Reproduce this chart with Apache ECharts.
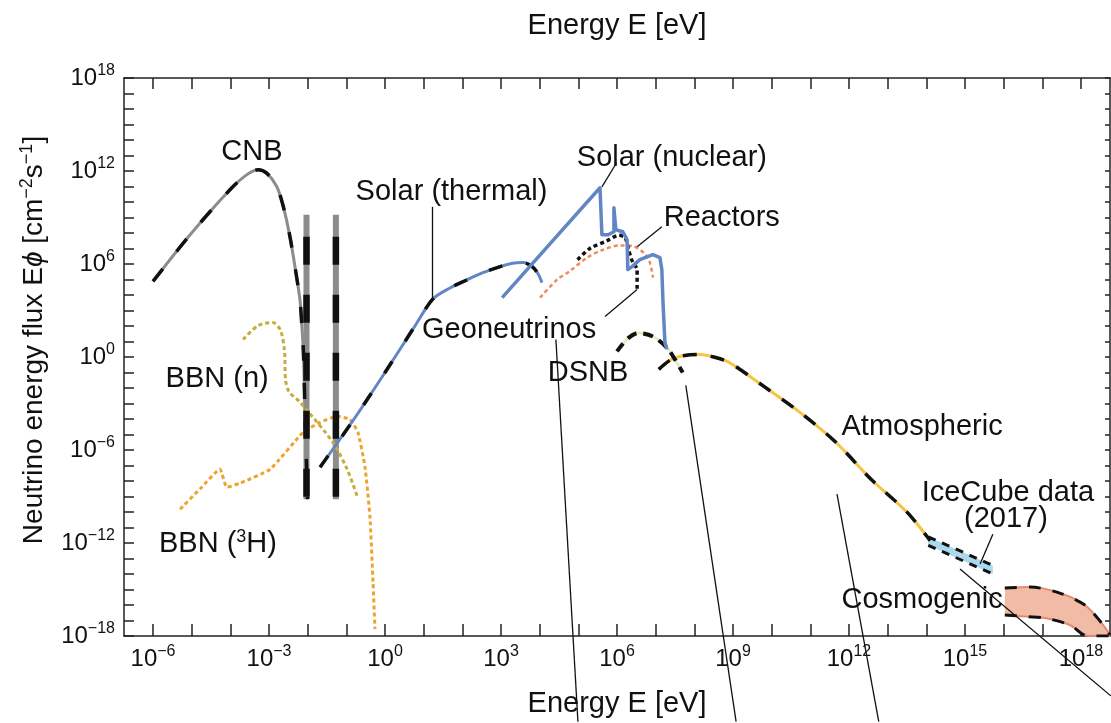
<!DOCTYPE html>
<html>
<head>
<meta charset="utf-8">
<title>Neutrino energy flux</title>
<script src="https://cdn.jsdelivr.net/npm/echarts@6/dist/echarts.min.js"></script>
<style>
  html, body { margin: 0; padding: 0; background: #fff; }
  #chart { width: 1111px; height: 723px; }
</style>
</head>
<body>
<div id="chart"></div>
<script>
// 数据都是 [log10(E/eV), log10(Eφ)]

// 坐标轴刻度
const xTicks = [-6, -5, -4, -3, -2, -1, 0, 1, 2, 3, 4, 5, 6, 7, 8, 9, 10, 11, 12, 13, 14, 15, 16, 17, 18];
const xLabelTicks = [-6, -3, 0, 3, 6, 9, 12, 15, 18];
const yTicks = [-18, -17, -16, -15, -14, -13, -12, -11, -10, -9, -8, -7, -6, -5, -4, -3, -2, -1,
  0, 1, 2, 3, 4, 5, 6, 7, 8, 9, 10, 11, 12, 13, 14, 15, 16, 17, 18];
const yLabelTicks = [-18, -12, -6, 0, 6, 12, 18];

// 曲线
const cnb = [[-6.0, 4.88], [-5.04, 7.89], [-4.01, 10.79], [-3.58, 11.75], [-3.28, 12.08], [-3.06, 11.86],
  [-2.80, 11.0], [-2.63, 9.71], [-2.46, 7.78], [-2.33, 5.85], [-2.20, 3.70], [-2.15, 1.99], [-2.11, 0.29],
  [-2.06, -4.5], [-2.0, -9.17]];
const cnbLine1 = [[-2.03, 9.18], [-2.03, -9.17]];
const cnbLine2 = [[-1.27, 9.18], [-1.27, -9.17]];
const bbnN = [[-3.67, 1.13], [-3.28, 2.03], [-2.90, 2.22], [-2.70, 1.7], [-2.60, 0.4], [-2.57, -1.5],
  [-2.48, -2.25], [-2.2, -2.9], [-1.99, -3.51], [-1.35, -5.50], [-0.98, -7.24], [-0.72, -8.98]];
const bbnH3 = [[-5.30, -9.82], [-4.78, -8.5], [-4.27, -7.24], [-4.09, -8.40], [-3.75, -8.14],
  [-2.97, -7.24], [-2.12, -4.86], [-1.68, -4.22], [-1.24, -3.83], [-0.91, -4.02], [-0.70, -4.86],
  [-0.52, -7.05], [-0.39, -10.27], [-0.31, -14.52], [-0.26, -17.55]];
const solarThermal = [[-1.68, -7.11], [-0.8, -4.0], [0, -1.0], [0.8, 2.1], [1.24, 3.75], [1.68, 4.45],
  [2.1, 4.95], [2.53, 5.44], [3.0, 5.85], [3.3, 6.05], [3.57, 6.09], [3.8, 5.85], [3.95, 5.4], [4.06, 4.8]];
const solarNuclear = [[3.03, 3.83], [4.3, 7.4], [5.56, 10.92], [5.61, 10.92], [5.61, 7.89], [5.77, 7.89],
  [5.92, 8.08], [5.92, 9.63], [5.97, 9.63], [5.97, 8.21], [6.15, 8.08], [6.26, 7.57], [6.28, 5.64],
  [6.39, 5.83], [6.59, 6.28], [6.93, 6.60], [7.11, 6.41], [7.16, 5.64], [7.19, 3.51], [7.24, 0.94], [7.29, 0.49]];
const reactors = [[4.01, 3.83], [4.45, 4.99], [4.78, 5.54], [5.22, 6.4], [5.64, 6.92], [6.08, 7.2],
  [6.45, 7.12], [6.7, 6.7], [6.85, 6.09], [6.93, 5.12]];
const geoneutrinos = [[4.98, 6.28], [5.3, 7.0], [5.74, 7.5], [6.05, 7.85], [6.21, 7.7], [6.3, 6.9],
  [6.41, 6.09], [6.52, 5.64], [6.52, 4.35]];
const dsnb = [[6.0, 0.36], [6.28, 1.2], [6.55, 1.55], [6.93, 1.32], [7.29, 0.6], [7.5, -0.16], [7.7, -1.0]];
const atmospheric = [[7.08, -0.80], [7.40, -0.16], [7.75, 0.1], [8.15, 0.16], [8.5, 0.0], [8.9, -0.35],
  [9.8, -1.90], [10.73, -3.57], [11.66, -5.50], [12.57, -7.89], [13.5, -10.01], [14.1, -11.85]];
const iceCubeUpper = [[14.05, -11.6], [15.72, -13.45]];
const iceCubeLower = [[14.05, -12.15], [15.72, -14.0]];
const cosmoUpper = [[16.03, -14.9], [16.68, -14.84], [17.45, -15.23], [18.1, -16.0], [18.49, -17.03], [18.75, -17.93]];
const cosmoLower = [[16.03, -16.64], [16.6, -16.75], [17.07, -16.84], [17.71, -17.29], [18.18, -18.0], [18.75, -18.0]];

// 标注文字和引线
const annotations = [
  [-3.44, 13.24, 'CNB'],
  [1.72, 10.66, 'Solar (thermal)'],
  [7.42, 12.85, 'Solar (nuclear)'],
  [8.71, 8.99, 'Reactors'],
  [3.21, 1.71, 'Geoneutrinos'],
  [5.25, -1.0, 'DSNB'],
  [-4.34, -1.45, 'BBN (n)'],
  [-4.32, -12.07, 'BBN ({s|3}H)'],
  [13.89, -4.54, 'Atmospheric'],
  [16.11, -8.79, 'IceCube data'],
  [16.06, -10.46, '(2017)'],
  [13.89, -15.68, 'Cosmogenic']
];
const leaders = [
  [[1.21, 9.69], [1.21, 3.83]],
  [[5.99, 12.53], [5.61, 10.98]],
  [[7.16, 8.41], [6.52, 7.12]],
  [[6.52, 4.35], [5.69, 2.61]],
  [[15.72, -11.43], [15.39, -13.36]],
  [[4.42, 1.13], [4.99, -23.53]],
  [[7.78, -1.83], [9.08, -23.53]],
  [[11.69, -8.85], [12.77, -23.53]],
  [[14.87, -13.68], [18.77, -21.86]]
];

const FONT = "'Liberation Sans', Arial, sans-serif";
const TEXT = '#111';
const COLORS = {
  cnb: '#8c8c8c',
  bbnN: '#c4ad3c',
  bbnH3: '#eda32e',
  solar: '#6286c4',
  reactors: '#ee8a5e',
  dsnb: '#e6edc4',
  atmos: '#f6c445',
  ice: '#aad8ee',
  cosmoFill: '#f2bba6',
  cosmoEdge: '#e38a6c'
};

function power(v) {
  return '{b|10}{s|' + (v < 0 ? '\u2212' + (-v) : v) + '}';
}

const tickRich = {
  b: { fontSize: 24, fontFamily: FONT, color: TEXT },
  s: { fontSize: 16, fontFamily: FONT, color: TEXT, padding: [0, 0, 14, 0] }
};

// 实线
function curve(data, color, width, opts) {
  opts = opts || {};
  return {
    type: 'line', data, symbol: 'none', silent: true,
    smooth: opts.smooth || 0, z: opts.z || 2,
    lineStyle: {
      color, width, type: opts.dash || 'solid', dashOffset: opts.offset || 0,
      cap: 'butt', join: 'round'
    }
  };
}

// 彩色线加黑色虚线
function dashedCurve(data, color, width, dash, opts) {
  opts = opts || {};
  return [
    curve(data, color, width, { smooth: opts.smooth, z: 2 }),
    curve(data, '#111', opts.dashWidth || width + 0.5, { smooth: opts.smooth, dash, offset: opts.offset, z: 3 })
  ];
}

// 用坐标轴画阴影带
function band(upper, lower, fill, z) {
  return {
    type: 'custom', silent: true, clip: true, z: z || 1,
    data: [[upper[0][0], upper[0][1]]],
    renderItem(params, api) {
      const pts = upper.concat(lower.slice().reverse()).map(p => api.coord(p));
      return { type: 'polygon', shape: { points: pts }, style: { fill } };
    }
  };
}

const series = [].concat(
  dashedCurve(cnb, COLORS.cnb, 3, [16, 22], { smooth: 0.3 }),
  dashedCurve(cnbLine1, COLORS.cnb, 6, [28, 30], { offset: 36 }),
  dashedCurve(cnbLine2, COLORS.cnb, 6, [28, 30], { offset: 36 }),
  curve(bbnN, COLORS.bbnN, 3, { dash: [4, 3], smooth: 0.3 }),
  curve(bbnH3, COLORS.bbnH3, 3, { dash: [4, 3], smooth: 0.15 }),
  dashedCurve(solarThermal, COLORS.solar, 3, [14, 24], { smooth: 0.3 }),
  curve(solarNuclear, COLORS.solar, 3.5, { z: 4 }),
  curve(reactors, COLORS.reactors, 2.5, { dash: [4, 3], smooth: 0.3 }),
  curve(geoneutrinos, '#111', 3.5, { dash: [4, 3], smooth: 0.3, z: 3 }),
  dashedCurve(dsnb, COLORS.dsnb, 3, [10, 7], { smooth: 0.3, dashWidth: 4 }),
  dashedCurve(atmospheric, COLORS.atmos, 3, [14, 14], { smooth: 0.3 }),
  band(iceCubeUpper, iceCubeLower, COLORS.ice, 1),
  curve(iceCubeUpper, '#111', 3, { dash: [8, 7], z: 3 }),
  curve(iceCubeLower, '#111', 3, { dash: [8, 7], z: 3 }),
  band(cosmoUpper, cosmoLower, COLORS.cosmoFill, 1),
  dashedCurve(cosmoUpper, COLORS.cosmoEdge, 2, [12, 12], { smooth: 0.3, dashWidth: 3 }),
  dashedCurve(cosmoLower, COLORS.cosmoEdge, 2, [12, 12], { smooth: 0.3, dashWidth: 3 }),
  {
    type: 'lines', coordinateSystem: 'cartesian2d', silent: true, clip: false, z: 5,
    data: leaders.map(c => ({ coords: c })),
    lineStyle: { color: '#111', width: 1.3, opacity: 1 }
  },
  {
    type: 'scatter', silent: true, symbolSize: 0, z: 6,
    itemStyle: { color: TEXT, opacity: 1 },
    data: annotations,
    label: {
      show: true, position: [0, 0], align: 'center', verticalAlign: 'middle',
      formatter: p => p.data[2],
      fontSize: 29, fontFamily: FONT, color: TEXT, opacity: 1,
      rich: {
        s: { fontSize: 18, fontFamily: FONT, color: TEXT, padding: [0, 0, 15, 0] }
      }
    }
  }
);

const axisLine = { show: true, onZero: false, lineStyle: { color: '#222', width: 1.5 } };
const nameStyle = { fontSize: 29, fontFamily: FONT, color: TEXT };

const option = {
  animation: false,
  backgroundColor: '#fff',
  grid: { left: 124, right: 1, top: 78, bottom: 86, containLabel: false },
  xAxis: [
    {
      type: 'value', position: 'bottom', min: -6.75, max: 18.75, interval: 0.25,
      axisLine, splitLine: { show: false },
      axisTick: { inside: true, length: 12, customValues: xTicks, lineStyle: { color: '#222', width: 1.5 } },
      axisLabel: { customValues: xLabelTicks, formatter: power, rich: tickRich, margin: 8 },
      name: 'Energy E [eV]', nameLocation: 'middle', nameGap: 53, nameTextStyle: nameStyle
    },
    {
      type: 'value', position: 'top', min: -6.75, max: 18.75, interval: 0.25,
      axisLine, splitLine: { show: false },
      axisTick: { inside: true, length: 11, customValues: xTicks, lineStyle: { color: '#222', width: 1.5 } },
      axisLabel: { show: false },
      name: 'Energy E [eV]', nameLocation: 'middle', nameGap: 38, nameTextStyle: nameStyle
    }
  ],
  yAxis: [
    {
      type: 'value', position: 'left', min: -18, max: 18, interval: 1,
      axisLine, splitLine: { show: false },
      axisTick: { inside: true, length: 10, customValues: yTicks, lineStyle: { color: '#222', width: 1.5 } },
      axisLabel: { customValues: yLabelTicks, formatter: power, rich: tickRich, margin: 9 },
      name: 'Neutrino energy flux E{i|\u03d5} [cm{s|\u22122}s{s|\u22121}]',
      nameLocation: 'middle', nameGap: 74,
      nameTextStyle: {
        fontSize: 28, fontFamily: FONT, color: TEXT,
        padding: [0, 0, 0, 34],
        rich: {
          i: { fontSize: 28, fontFamily: FONT, fontStyle: 'italic', color: TEXT },
          s: { fontSize: 18, fontFamily: FONT, color: TEXT, padding: [0, 0, 14, 0] }
        }
      }
    },
    {
      type: 'value', position: 'right', min: -18, max: 18, interval: 1,
      axisLine, splitLine: { show: false },
      axisTick: { inside: true, length: 5, customValues: yTicks, lineStyle: { color: '#222', width: 1.5 } },
      axisLabel: { show: false }
    }
  ],
  series
};

const chart = echarts.init(document.getElementById('chart'));
chart.setOption(option);
</script>
</body>
</html>
